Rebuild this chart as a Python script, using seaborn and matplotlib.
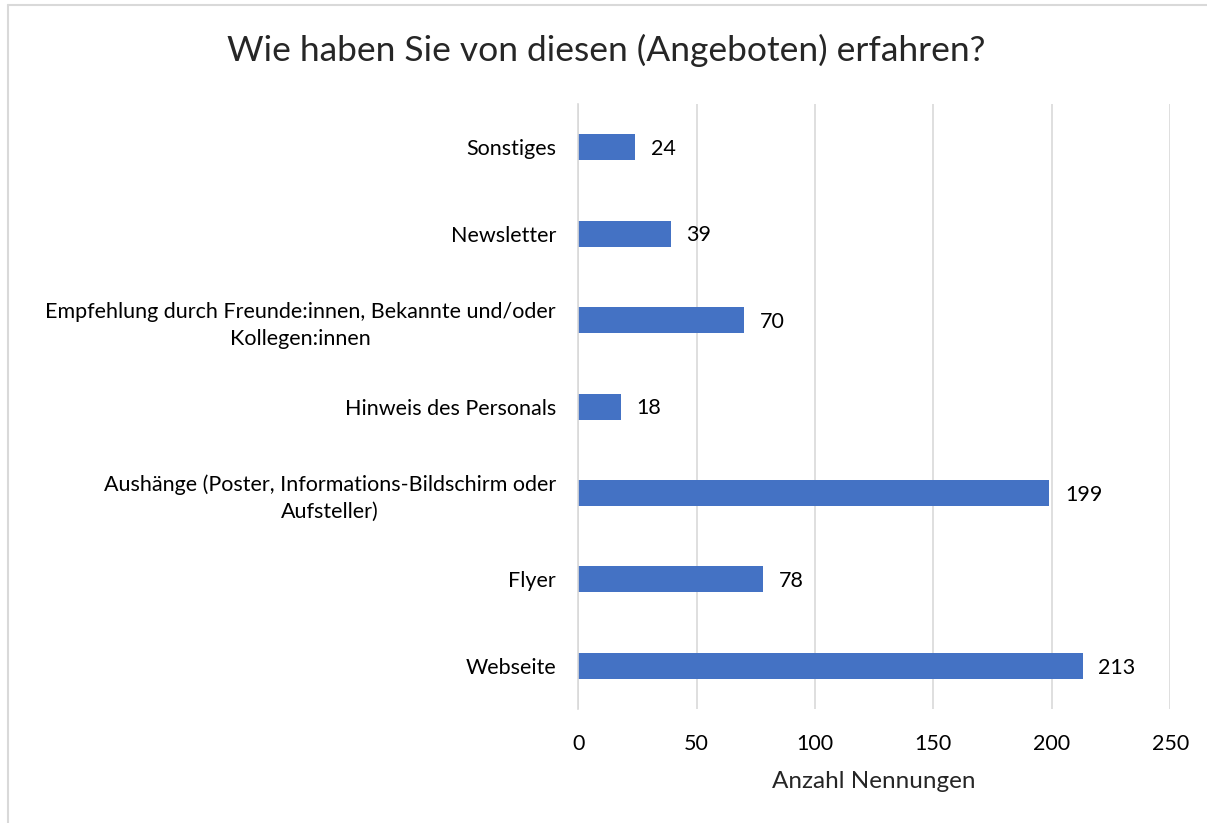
import matplotlib
matplotlib.use("Agg")
import matplotlib.pyplot as plt
import seaborn as sns
import pandas as pd

# data
categories = ["Sonstiges", "Newsletter",
              "Empfehlung durch Freunde:innen, Bekannte und/oder\nKollegen:innen",
              "Hinweis des Personals",
              "Aushänge (Poster, Informations-Bildschirm oder\nAufsteller)",
              "Flyer", "Webseite"]
counts = [24, 39, 70, 18, 199, 78, 213]
x_ticks = [0, 50, 100, 150, 200, 250]

df = pd.DataFrame({"Kategorie": categories, "Anzahl": counts})

sns.set_style("white")
plt.rcParams["font.family"] = ["Lato", "DejaVu Sans"]

fig = plt.figure(figsize=(12.07, 8.23), dpi=100)
ax = fig.add_axes([0.479, 0.1385, 0.4905, 0.735])

sns.barplot(data=df, x="Anzahl", y="Kategorie", color="#4472C4",
            width=0.30, saturation=1, linewidth=0, ax=ax, orient="h")

for i, v in enumerate(counts):
    ax.text(v + 6.6, i + 0.02, str(v), va="center", ha="left", fontsize=15.5, color="#000000")

ax.set_xlim(0, 250)
ax.set_xticks(x_ticks)
ax.xaxis.grid(True, color="#d9d9d9", linewidth=1.2)
ax.set_axisbelow(True)
for s in ["top", "right", "bottom"]:
    ax.spines[s].set_visible(False)
ax.spines["left"].set_color("#d9d9d9")
ax.spines["left"].set_linewidth(1.2)
ax.tick_params(axis="both", length=0, labelsize=15.5, colors="#000000")
ax.tick_params(axis="x", pad=18)
ax.tick_params(axis="y", pad=16)
ax.set_ylabel("")
ax.set_xlabel("Anzahl Nennungen", fontsize=17.5, labelpad=12)
for lbl in ax.get_yticklabels():
    lbl.set_horizontalalignment("right")
    lbl.set_multialignment("center")
    lbl.set_linespacing(1.4)

fig.text(0.502, 0.939, "Wie haben Sie von diesen (Angeboten) erfahren?",
         ha="center", va="center", fontsize=25.5)

# chart area border (only top and left edges are visible in the crop)
fig.add_artist(plt.Line2D([8 / 1207, 1], [1 - 5 / 823, 1 - 5 / 823], transform=fig.transFigure,
                          color="#d9d9d9", linewidth=1.5))
fig.add_artist(plt.Line2D([8 / 1207, 8 / 1207], [0, 1 - 5 / 823], transform=fig.transFigure,
                          color="#d9d9d9", linewidth=1.5))

fig.savefig("out.png", dpi=100)
